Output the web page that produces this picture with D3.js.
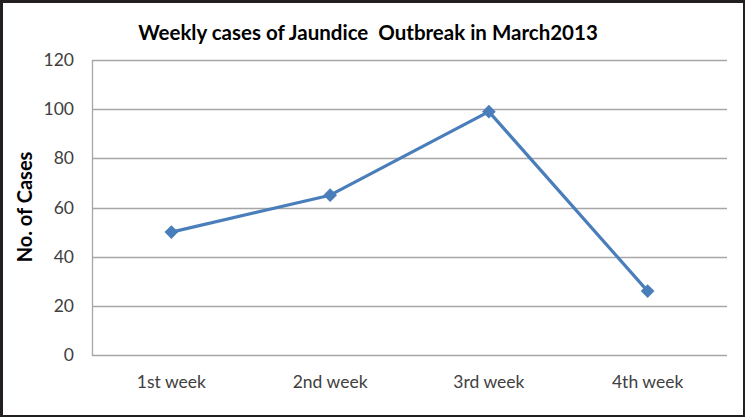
<!DOCTYPE html>
<html lang="en">
<head>
  <meta charset="utf-8">
  <title>Weekly cases of Jaundice Outbreak</title>
  <script src="https://d3js.org/d3.v7.min.js"></script>
  <style>
    html, body { margin: 0; padding: 0; background: #231f20; }
    body { font-family: Lato, "Open Sans", sans-serif; }
    svg { display: block; }
  </style>
</head>
<body>
<script>
  // data
  var weeks = ["1st week", "2nd week", "3rd week", "4th week"];
  var cases = [50, 65, 99, 26];
  var yTicks = [0, 20, 40, 60, 80, 100, 120];

  var W = 745, H = 417;
  var plot = { left: 92, right: 727, top: 60, bottom: 355 };

  var svg = d3.select("body").append("svg").attr("width", W).attr("height", H);

  // white panel inside the dark frame
  svg.append("rect").attr("x", 3).attr("y", 3).attr("width", W - 5).attr("height", H - 5)
     .attr("fill", "#fff");

  var x = d3.scaleBand().domain(weeks).range([plot.left, plot.right]);
  var y = d3.scaleLinear().domain([0, 120]).range([plot.bottom, plot.top]);

  // gridlines
  svg.append("g").selectAll("line").data(yTicks).enter().append("line")
     .attr("x1", plot.left).attr("x2", plot.right)
     .attr("y1", function(d){ return Math.round(y(d)) + 0.5; })
     .attr("y2", function(d){ return Math.round(y(d)) + 0.5; })
     .attr("stroke", "#a6a6a6").attr("stroke-width", 1.3);

  // left axis line
  svg.append("line").attr("x1", plot.left + 0.5).attr("x2", plot.left + 0.5)
     .attr("y1", plot.top).attr("y2", plot.bottom + 1)
     .attr("stroke", "#a6a6a6").attr("stroke-width", 1.3);

  // y tick labels
  svg.append("g").selectAll("text").data(yTicks).enter().append("text")
     .attr("x", 74).attr("y", function(d){ return y(d); })
     .attr("dy", "0.35em").attr("text-anchor", "end")
     .attr("font-size", 17.5).attr("fill", "#404040")
     .text(function(d){ return d; });

  // x labels
  svg.append("g").selectAll("text").data(weeks).enter().append("text")
     .attr("x", function(d){ return x(d) + x.bandwidth() / 2; })
     .attr("y", 388).attr("text-anchor", "middle")
     .attr("font-size", 17.5).attr("fill", "#404040")
     .text(function(d){ return d; });

  // line
  var line = d3.line()
     .x(function(d, i){ return x(weeks[i]) + x.bandwidth() / 2; })
     .y(function(d){ return y(d); });
  svg.append("path").datum(cases).attr("d", line)
     .attr("fill", "none").attr("stroke", "#4a7ebb").attr("stroke-width", 3.2)
     .attr("stroke-linejoin", "round");

  // diamond markers
  svg.append("g").selectAll("path").data(cases).enter().append("path")
     .attr("d", d3.symbol().type(d3.symbolDiamond2).size(120))
     .attr("transform", function(d, i){
        return "translate(" + (x(weeks[i]) + x.bandwidth() / 2) + "," + y(d) + ")";
     })
     .attr("fill", "#4a7ebb");

  // title
  svg.append("text").attr("x", 368).attr("y", 40).attr("text-anchor", "middle")
     .style("white-space", "pre")
     .attr("font-size", 20.5).attr("font-weight", "bold").attr("fill", "#000")
     .text("Weekly cases of Jaundice  Outbreak in March2013");

  // y axis title
  svg.append("text").attr("transform", "translate(32,207) rotate(-90)")
     .attr("text-anchor", "middle").attr("font-size", 20).attr("font-weight", "bold")
     .attr("fill", "#000").text("No. of Cases");
</script>
</body>
</html>
